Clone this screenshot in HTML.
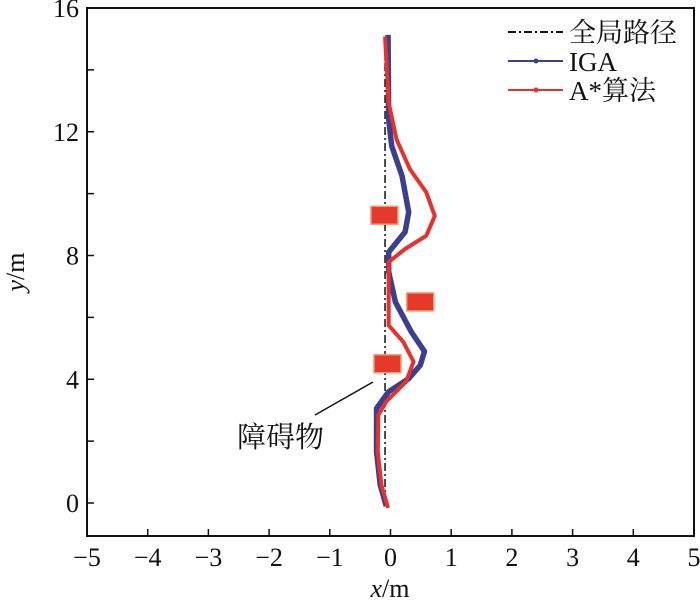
<!DOCTYPE html>
<html><head><meta charset="utf-8"><style>
body{margin:0;background:#fff}
svg text{font-family:"Liberation Serif","Noto Serif CJK SC",serif;fill:#111}
</style></head><body>
<svg width="700" height="599" viewBox="0 0 700 599" xmlns="http://www.w3.org/2000/svg">
<g id="g"></g>
</svg>
<script>
const xTicks=[-5,-4,-3,-2,-1,0,1,2,3,4,5];
const yTicks=[0,2,4,6,8,10,12,14,16];
const yLabels=[0,4,8,12,16];
const globalX=[-0.09,-0.09];
const globalY=[0,15];
const igaX=[-0.07,-0.17,-0.23,-0.23,-0.03,0.30,0.49,0.56,0.34,0.08,-0.03,-0.03,0.24,0.30,0.19,0.02,-0.03,-0.04];
const igaY=[-0.1,0.59,1.67,3.06,3.6,4.02,4.45,4.9,5.54,6.5,7.47,8.11,8.76,9.4,10.57,11.54,12.4,15.13];
const astarX=[-0.04,-0.15,-0.21,-0.2,-0.07,0.26,0.38,0.21,-0.03,-0.03,-0.03,0.24,0.59,0.73,0.59,0.32,0.1,-0.03,-0.09];
const astarY=[-0.16,0.59,1.67,2.84,3.28,3.93,4.57,5.21,5.74,7.03,7.79,8.21,8.64,9.28,10.04,10.79,11.75,12.94,15.08];
const obsX=[-0.1,0.49,-0.05];
const obsY=[9.3,6.5,4.5];
const L=87,R=694,T=8,B=536,Y0=503,Y16=8;
const sx=v=>L+(v+5)*(R-L)/10;
const sy=v=>Y0+(Y16-Y0)*v/16;
const NS="http://www.w3.org/2000/svg";
const g=document.getElementById('g');
function mk(t,a,p){const e=document.createElementNS(NS,t);for(const k in a)e.setAttribute(k,a[k]);(p||g).appendChild(e);return e;}
let e;
e=mk('rect',{x:L,y:T,width:R-L,height:B-T,fill:'none',stroke:'#111','stroke-width':2});


xTicks.forEach(v=>{
 e=mk('line',{x1:sx(v),x2:sx(v),y1:B,y2:B-7,stroke:'#111','stroke-width':1.5});
 
 
 e=mk('text',{x:sx(v),y:B+30,'text-anchor':'middle','font-size':26});
 e.textContent=(v<0?'\u2212'+(-v):v);
 
 
});
yTicks.forEach(v=>{
 e=mk('line',{x1:L,x2:L+7,y1:sy(v),y2:sy(v),stroke:'#111','stroke-width':1.5});
 
 
});
yLabels.forEach(v=>{
 e=mk('text',{x:L-8,y:sy(v)+9,'text-anchor':'end','font-size':26});
 e.textContent=v;
 
 
});
e=mk('text',{x:390,y:597,'text-anchor':'middle','font-size':26});
e.innerHTML='<tspan font-style="italic">x</tspan>/m';


e=mk('text',{x:0,y:0,'text-anchor':'middle','font-size':26,transform:'translate(24,272) rotate(-90)'});
e.innerHTML='<tspan font-style="italic">y</tspan>/m';


function pts(xs,ys){return xs.map((x,i)=>sx(x)+','+sy(ys[i])).join(' ');}
e=mk('polyline',{points:pts(globalX,globalY),fill:'none',stroke:'#111','stroke-width':1.5,'stroke-dasharray':'8 3 2 3'});


e=mk('polyline',{points:pts(igaX,igaY),fill:'none',stroke:'#3b3f8f','stroke-width':5.5,'stroke-linejoin':'round'});


e=mk('polyline',{points:pts(astarX,astarY),fill:'none',stroke:'#e8312c','stroke-width':4,'stroke-linejoin':'round'});


obsX.forEach((x,i)=>{
 e=mk('rect',{x:sx(x)-13.5,y:sy(obsY[i])-9,width:27,height:18,fill:'#e53a2b',stroke:'#f0a070','stroke-width':1.5});
 
 
});
e=mk('line',{x1:315,y1:415,x2:373,y2:382,stroke:'#111','stroke-width':1.5});


e=mk('text',{x:237,y:447,'font-size':29});
e.textContent='障碍物';


const leg=[['全局路径','#111','8 3 2 3',null,32],['IGA','#3b3f8f',null,'#3b3f8f',61],['A*算法','#e8312c',null,'#e8312c',90]];
leg.forEach(l=>{
 const a={x1:508,x2:563,y1:l[4],y2:l[4],stroke:l[1],'stroke-width':2};
 if(l[2])a['stroke-dasharray']=l[2];
 e=mk('line',a);
 
 
 if(l[3]){e=mk('circle',{cx:536,cy:l[4],r:2.5,fill:l[3]});
 
 }
 e=mk('text',{x:569,y:l[4]+10,'font-size':27});
 e.textContent=l[0];
 
 
});
</script>
</body></html>
